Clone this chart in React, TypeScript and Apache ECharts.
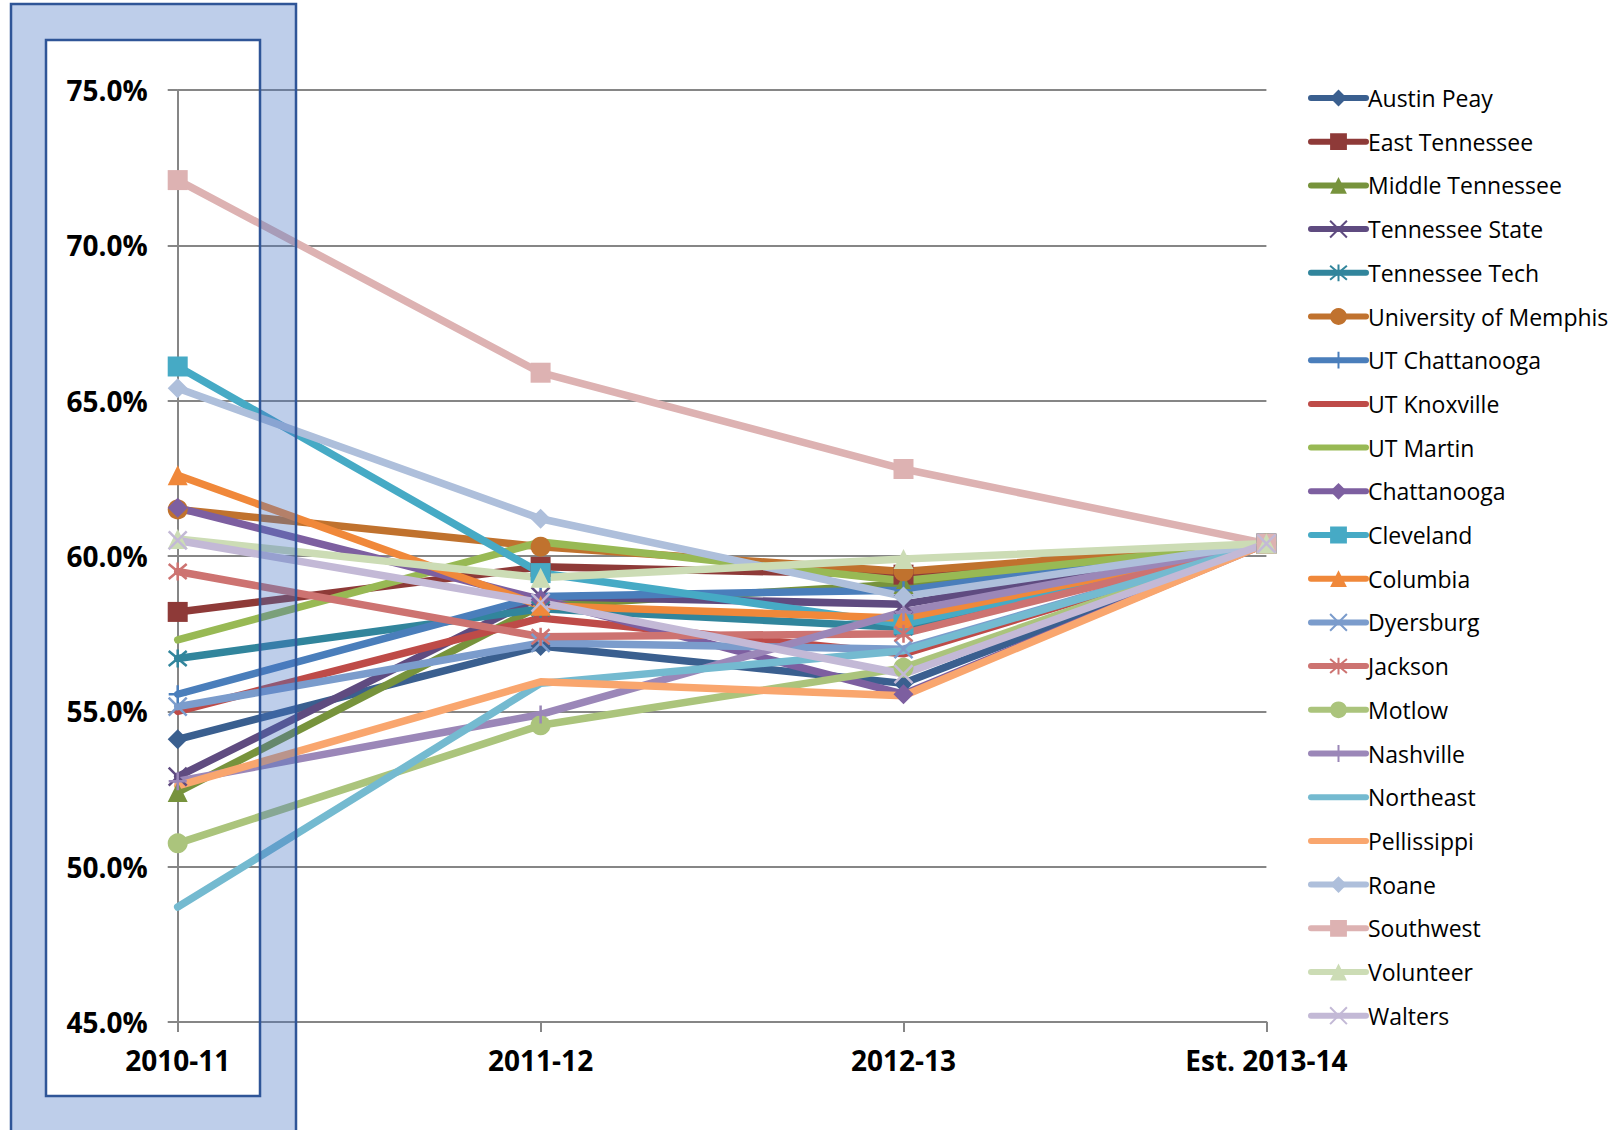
import React, { useEffect, useRef } from "react";
import * as echarts from "echarts";

const categories = ["2010-11", "2011-12", "2012-13", "Est. 2013-14"];

const yTicks = { min: 45, max: 75, interval: 5 };

const names = [
  "Austin Peay", "East Tennessee", "Middle Tennessee", "Tennessee State", "Tennessee Tech",
  "University of Memphis", "UT Chattanooga", "UT Knoxville", "UT Martin", "Chattanooga",
  "Cleveland", "Columbia", "Dyersburg", "Jackson", "Motlow", "Nashville", "Northeast",
  "Pellissippi", "Roane", "Southwest", "Volunteer", "Walters",
];

const austinPeay = [54.1, 57.1, 55.9, 60.4];
const eastTennessee = [58.2, 59.65, 59.4, 60.4];
const middleTennessee = [52.4, 58.4, 59.1, 60.4];
const tennesseeState = [52.9, 58.7, 58.45, 60.4];
const tennesseeTech = [56.7, 58.3, 57.7, 60.4];
const uMemphis = [61.5, 60.3, 59.5, 60.4];
const utChattanooga = [55.55, 58.7, 58.9, 60.4];
const utKnoxville = [55.0, 58.0, 56.85, 60.4];
const utMartin = [57.3, 60.45, 59.2, 60.4];
const chattanooga = [61.55, 58.6, 55.55, 60.4];
const cleveland = [66.1, 59.45, 57.8, 60.4];
const columbia = [62.6, 58.4, 58.0, 60.4];
const dyersburg = [55.15, 57.2, 57.0, 60.4];
const jackson = [59.5, 57.4, 57.5, 60.4];
const motlow = [50.75, 54.55, 56.4, 60.4];
const nashville = [52.75, 54.9, 58.2, 60.4];
const northeast = [48.7, 55.9, 56.95, 60.4];
const pellissippi = [52.6, 55.95, 55.5, 60.4];
const roane = [65.4, 61.2, 58.7, 60.4];
const southwest = [72.1, 65.9, 62.8, 60.4];
const volunteer = [60.55, 59.3, 59.9, 60.4];
const walters = [60.5, 58.5, 56.2, 60.4];

const values = [
  austinPeay, eastTennessee, middleTennessee, tennesseeState, tennesseeTech,
  uMemphis, utChattanooga, utKnoxville, utMartin, chattanooga,
  cleveland, columbia, dyersburg, jackson, motlow, nashville, northeast,
  pellissippi, roane, southwest, volunteer, walters,
];

const colors = [
  "#3A5F8F", "#8E3A38", "#77933C", "#5F4B80", "#31859C",
  "#C0722E", "#4A7EBB", "#BE4B48", "#98B954", "#7D5FA0",
  "#46AAC5", "#F0883A", "#7B9CCC", "#CD7371", "#ABC47C", "#9B87B8", "#74BAD0",
  "#F9A66E", "#AEBFDB", "#DDB2B2", "#CCDCB5", "#C3B9D6",
];

const X_PATH = "path://M0,0L10,10M10,0L0,10";
const STAR_PATH = "path://M0,0L10,10M10,0L0,10M5,-1L5,11";
const PLUS_PATH = "path://M5,0L5,10M0,5L10,5";

const markers = [
  "diamond", "rect", "triangle", "x", "star",
  "circle", "plus", "none", "none", "diamond",
  "rect", "triangle", "x", "star", "circle", "plus", "none",
  "none", "diamond", "rect", "triangle", "x",
];

function symbolFor(m: string) {
  if (m === "x") return X_PATH;
  if (m === "star") return STAR_PATH;
  if (m === "plus") return PLUS_PATH;
  if (m === "none") return "circle";
  return m;
}

export default function App() {
  const ref = useRef<HTMLDivElement>(null);
  useEffect(() => {
    document.body.style.margin = "0";
    if (!ref.current) return;
    const chart = echarts.init(ref.current, undefined, { renderer: "svg" });
    const series = names.map((name, i) => {
      const m = markers[i];
      const stroked = m === "x" || m === "star" || m === "plus";
      const noMark = m === "none";
      return {
        name,
        type: "line",
        data: values[i],
        symbol: symbolFor(m),
        showSymbol: !noMark,
        symbolSize: stroked ? 18 : 20,
        lineStyle: { color: colors[i], width: 7.5, cap: "round" },
        itemStyle: stroked
          ? { color: "rgba(0,0,0,0)", borderColor: colors[i], borderWidth: 2.5 }
          : noMark
          ? { color: "rgba(0,0,0,0)" }
          : { color: colors[i] },
      };
    });
    const fill = "rgba(68,114,196,0.35)";
    const edge = "#2F5597";
    chart.setOption({
      animation: false,
      grid: { left: 177.7, right: 354.6, top: 90, bottom: 108, containLabel: false },
      xAxis: {
        type: "category",
        data: categories,
        boundaryGap: false,
        axisLine: { lineStyle: { color: "#868686", width: 2 } },
        axisTick: { show: true, length: 10, lineStyle: { color: "#868686", width: 2 } },
        axisLabel: {
          margin: 24,
          color: "#000",
          fontFamily: "Open Sans",
          fontWeight: "bold",
          fontSize: 28,
        },
        splitLine: { show: false },
      },
      yAxis: {
        type: "value",
        min: yTicks.min,
        max: yTicks.max,
        interval: yTicks.interval,
        axisLine: { show: true, lineStyle: { color: "#868686", width: 2 } },
        axisTick: { show: true, length: 10, lineStyle: { color: "#868686", width: 2 } },
        axisLabel: {
          margin: 30,
          color: "#000",
          fontFamily: "Open Sans",
          fontWeight: "bold",
          fontSize: 28,
          formatter: (v: number) => v.toFixed(1) + "%",
        },
        splitLine: { lineStyle: { color: "#868686", width: 2 } },
      },
      legend: {
        orient: "vertical",
        left: 1308,
        top: 86,
        itemWidth: 55,
        itemHeight: 21,
        itemGap: 19.7,
        padding: 0,
        lineStyle: { width: 6, cap: "round" },
        textStyle: { fontFamily: "Open Sans", fontSize: 23, color: "#000", lineHeight: 24, padding: [0, 0, 0, -3] },
        data: names,
      },
      graphic: [
        { type: "rect", z: 100, silent: true, shape: { x: 11, y: 4, width: 285, height: 36 }, style: { fill } },
        { type: "rect", z: 100, silent: true, shape: { x: 11, y: 1096, width: 285, height: 40 }, style: { fill } },
        { type: "rect", z: 100, silent: true, shape: { x: 11, y: 40, width: 35, height: 1056 }, style: { fill } },
        { type: "rect", z: 100, silent: true, shape: { x: 260, y: 40, width: 36, height: 1056 }, style: { fill } },
        { type: "rect", z: 101, silent: true, shape: { x: 11, y: 4, width: 285, height: 1140 }, style: { fill: "none", stroke: edge, lineWidth: 2.5 } },
        { type: "rect", z: 101, silent: true, shape: { x: 46, y: 40, width: 214, height: 1056 }, style: { fill: "none", stroke: edge, lineWidth: 2.5 } },
      ],
      series,
    });
    return () => chart.dispose();
  }, []);
  return <div ref={ref} style={{ width: 1621, height: 1130 }} />;
}
